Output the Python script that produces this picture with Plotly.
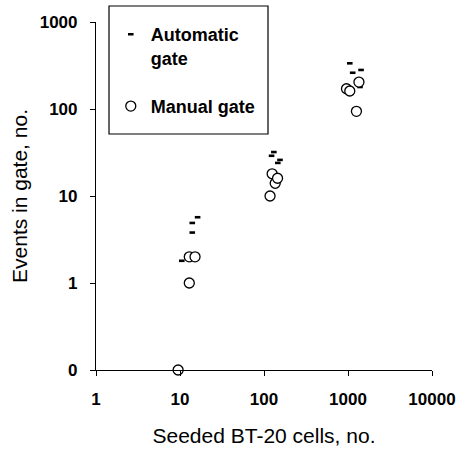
import plotly.graph_objects as go

# Automatic gate (dash markers)
auto_x = [10.5, 14, 14, 16.2, 131, 123, 155, 146, 1050, 1137, 1430, 1390]
auto_y = [1.8, 3.8, 4.9, 5.7, 32, 29, 26, 24, 335, 261, 281, 179]

# Manual gate (open circles)
manual_x = [9.5, 12.9, 12.9, 15.1, 118, 125, 136, 145, 960, 1050, 1350, 1260]
manual_y = [0, 1, 2, 2, 10, 18, 14, 16, 171, 161, 204, 94]

x_tickvals = [1, 10, 100, 1000, 10000]
x_ticktext = ["1", "10", "100", "1000", "10000"]
ZERO_POS = 0.1  # the log axis floor is labelled "0"
y_tickvals = [ZERO_POS, 1, 10, 100, 1000]
y_ticktext = ["0", "1", "10", "100", "1000"]

manual_y_plot = [v if v > 0 else ZERO_POS for v in manual_y]

FONT = "Liberation Sans, Arial, Helvetica, sans-serif"
BOLD = dict(family=FONT, size=17, color="black", weight="bold")

fig = go.Figure()
fig.add_trace(go.Scatter(
    x=auto_x, y=auto_y, mode="markers", name="Automatic<br>gate",
    legendgroup="a", cliponaxis=False,
    marker=dict(symbol="line-ew", size=4, color="black",
                line=dict(width=2.6, color="black")),
))
fig.add_trace(go.Scatter(
    x=manual_x, y=manual_y_plot, mode="markers", name="Manual gate",
    legendgroup="m", cliponaxis=False,
    marker=dict(symbol="circle", size=10, color="white",
                line=dict(width=1.3, color="black")),
))

axis_common = dict(showgrid=False, zeroline=False, color="black", automargin=False)

fig.update_layout(
    width=459, height=450,
    margin=dict(l=96, r=27, t=22, b=80, autoexpand=False),
    paper_bgcolor="white", plot_bgcolor="white",
    font=dict(family=FONT, color="black", size=17),
    showlegend=True,
    legend=dict(
        x=0.044, xanchor="left", y=1.017, yanchor="top",
        bgcolor="rgba(0,0,0,0)", borderwidth=0,
        font=dict(family=FONT, size=18, color="black", weight="bold"),
        valign="top", tracegroupgap=22,
    ),
    xaxis=dict(
        type="log", range=[0, 4], tickvals=x_tickvals, ticktext=x_ticktext,
        ticks="outside", ticklen=5, tickwidth=1.2, tickcolor="black",
        showline=True, linewidth=1.2, linecolor="black",
        tickfont=BOLD, ticklabelstandoff=8,
        title=dict(text="Seeded BT-20 cells, no.", font=dict(size=21), standoff=20),
        **axis_common,
    ),
    xaxis2=dict(
        type="log", range=[0, 4], overlaying="x", anchor="y",
        tickvals=x_tickvals[1:], ticks="inside", ticklen=5, tickwidth=1.2,
        tickcolor="black", showticklabels=False, showline=False,
        **axis_common,
    ),
    yaxis=dict(
        type="log", range=[-1, 3], tickvals=y_tickvals, ticktext=y_ticktext,
        ticks="outside", ticklen=5, tickwidth=1.2, tickcolor="black",
        showline=True, linewidth=1.2, linecolor="black",
        tickfont=BOLD, ticklabelstandoff=9,
        title=dict(text="Events in gate, no.", font=dict(size=21), standoff=6),
        **axis_common,
    ),
    yaxis2=dict(
        type="log", range=[-1, 3], overlaying="y", anchor="x", side="left",
        tickvals=y_tickvals[1:], ticks="inside", ticklen=5, tickwidth=1.2,
        tickcolor="black", showticklabels=False, showline=False,
        **axis_common,
    ),
    shapes=[dict(
        type="rect", xref="paper", yref="paper",
        x0=0.0387, x1=0.5119, y0=0.6782, y1=1.046,
        line=dict(color="black", width=1.2), fillcolor="rgba(0,0,0,0)",
    )],
)

fig.write_html(
    "out.html",
    config={"displayModeBar": False},
    post_script="document.body.style.margin='0';document.body.style.padding='0';",
)
